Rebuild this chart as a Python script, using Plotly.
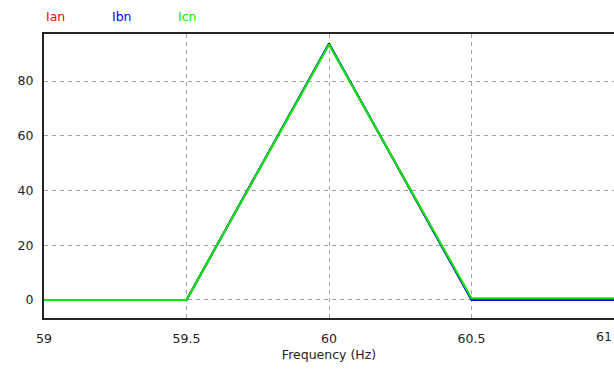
import plotly.graph_objects as go

# Frequency axis (Hz) and the three phase-current spectra
freq = [59.0, 59.5, 60.0, 60.5, 61.0]
ian = [0.0, 0.0, 93.5, 0.3, 0.3]
ibn = [0.0, 0.0, 93.7, 0.0, 0.0]
icn = [0.0, 0.0, 93.4, 0.6, 0.6]

series = [("Ian", ian, "#ff0000"), ("Ibn", ibn, "#0000ff"), ("Icn", icn, "#00ee00")]
x_ticks = [59, 59.5, 60, 60.5, 61]
x_ticktext = ["59", "59.5", "60", "60.5", "61"]
y_ticks = [0, 20, 40, 60, 80]

font_family = "DejaVu Sans"
font_size = 12.5
grid_dash = "4px,4px"

fig = go.Figure()
for name, vals, color in series:
    fig.add_trace(go.Scatter(
        x=freq, y=vals, mode="lines", name=name,
        line=dict(color=color, width=2),
        showlegend=False,
    ))

# Coloured series names along the top
label_x = [0.0, 0.1158, 0.2316]
for (name, _, color), lx in zip(series, label_x):
    fig.add_annotation(
        text=name, xref="paper", yref="paper", x=lx, y=1.0,
        xanchor="left", yanchor="bottom", yshift=8, showarrow=False,
        font=dict(family=font_family, size=font_size, color=color),
    )

# The last tick label sits at the right edge; keep it inside the page
fig.add_annotation(
    text=x_ticktext[-1], xref="x", yref="paper", x=x_ticks[-1], y=0,
    xanchor="right", yanchor="top", yshift=-9, showarrow=False,
    font=dict(family=font_family, size=font_size, color="#222222"),
)

fig.update_layout(
    width=614, height=369,
    margin=dict(l=44, r=0, t=34, b=51),
    paper_bgcolor="white", plot_bgcolor="white",
    font=dict(family=font_family, size=font_size, color="#222222"),
)

fig.update_xaxes(
    range=[59, 61], tickvals=x_ticks[:-1], ticktext=x_ticktext[:-1],
    automargin=False,
    showgrid=True, gridcolor="#a0a0a0", griddash=grid_dash, gridwidth=1,
    showline=True, linecolor="#222222", linewidth=2, mirror=True,
    zeroline=False, ticks="", ticklabelstandoff=8,
    title=dict(text="Frequency (Hz)", standoff=5, font=dict(size=font_size)),
)
fig.update_yaxes(
    range=[-6.6, 97.2], tickvals=y_ticks,
    automargin=False,
    showgrid=True, gridcolor="#a0a0a0", griddash=grid_dash, gridwidth=1,
    showline=True, linecolor="#222222", linewidth=2, mirror=False,
    zeroline=False, ticks="", ticklabelstandoff=6,
)

fig.write_html("out.html")
